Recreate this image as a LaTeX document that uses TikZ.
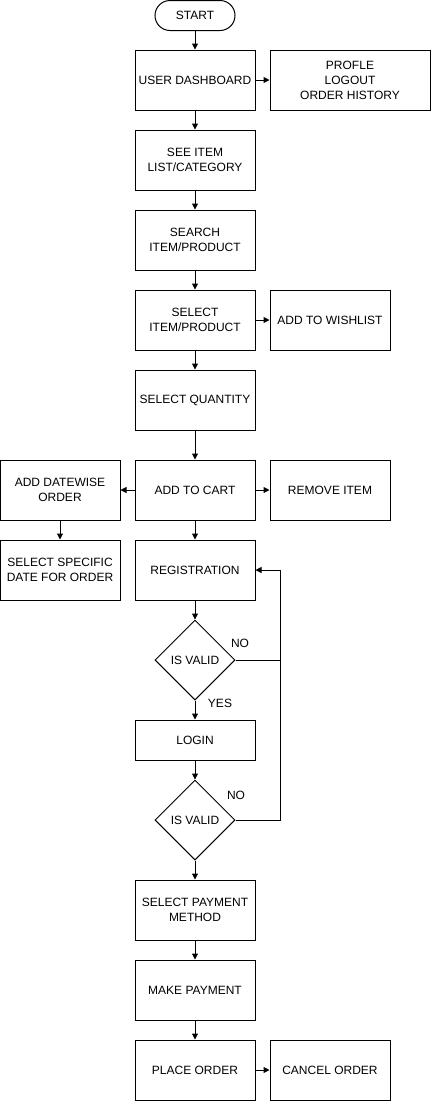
\documentclass[tikz,border=0pt]{standalone}
\usepackage{fontspec}
\setmainfont{Liberation Sans}
\usetikzlibrary{shapes.geometric,arrows.meta}
\begin{document}
\begin{tikzpicture}[x=0.75pt,y=-0.75pt,
  every node/.style={font=\fontsize{9}{11.25}\selectfont, align=center, inner sep=0pt},
  box/.style={draw, line width=0.75pt, minimum width=90pt, minimum height=45pt},
  widebox/.style={box, minimum width=120pt},
  lowbox/.style={box, minimum height=30pt},
  pill/.style={draw, line width=0.75pt, rounded corners=11.25pt, minimum width=60pt, minimum height=22.5pt},
  decision/.style={draw, line width=0.75pt, diamond, minimum width=60pt, minimum height=60pt},
  lbl/.style={font=\fontsize{9}{11.25}\selectfont},
  arr/.style={draw, line width=0.75pt, -{Triangle[length=4.5pt,width=4.5pt]}},
  ln/.style={draw, line width=0.75pt}]
\useasboundingbox (0,0) rectangle (431,1101);
\node[pill] (start) at (195,15.5) {START};
\node[box] (dash) at (195,80) {USER DASHBOARD};
\node[widebox] (prof) at (350,80) {PROFLE\\LOGOUT\\ORDER HISTORY};
\node[box] (see) at (195,160) {SEE ITEM\\LIST/CATEGORY};
\node[box] (search) at (195,240) {SEARCH\\ITEM/PRODUCT};
\node[box] (select) at (195,320) {SELECT\\ITEM/PRODUCT};
\node[box] (wish) at (330,320) {ADD TO WISHLIST};
\node[box] (qty) at (195,400) {SELECT QUANTITY};
\node[box] (cart) at (195,490) {ADD TO CART};
\node[box] (datewise) at (60,490) {ADD DATEWISE\\ORDER};
\node[box] (remove) at (330,490) {REMOVE ITEM};
\node[box] (specific) at (60,570) {SELECT SPECIFIC\\DATE FOR ORDER};
\node[box] (reg) at (195,570) {REGISTRATION};
\node[decision] (valid1) at (195,660) {IS VALID};
\node[lowbox] (login) at (195,740) {LOGIN};
\node[decision] (valid2) at (195,820) {IS VALID};
\node[box] (pay) at (195,910) {SELECT PAYMENT\\METHOD};
\node[box] (make) at (195,990) {MAKE PAYMENT};
\node[box] (place) at (195,1070) {PLACE ORDER};
\node[box] (cancel) at (330,1070) {CANCEL ORDER};
\coordinate (j1) at (280,660);
\coordinate (j2) at (280,820);
\coordinate (j0) at (280,570);
\node[lbl] (no1) at (240,643) {NO};
\node[lbl] (yes) at (220,703) {YES};
\node[lbl] (no2) at (236,795) {NO};
\path[arr] (start) -- (dash);
\path[arr] (dash) -- (prof);
\path[arr] (dash) -- (see);
\path[arr] (see) -- (search);
\path[arr] (search) -- (select);
\path[arr] (select) -- (wish);
\path[arr] (select) -- (qty);
\path[arr] (qty) -- (cart);
\path[arr] (cart) -- (datewise);
\path[arr] (cart) -- (remove);
\path[arr] (datewise) -- (specific);
\path[arr] (cart) -- (reg);
\path[arr] (reg) -- (valid1);
\path[arr] (valid1) -- (login);
\path[arr] (login) -- (valid2);
\path[arr] (valid2) -- (pay);
\path[arr] (pay) -- (make);
\path[arr] (make) -- (place);
\path[arr] (place) -- (cancel);
\path[ln] (valid1.east) -- (j1);
\path[ln] (valid2.east) -- (j2) -- (j1);
\path[arr] (j1) -- (j0) -- (reg.east);
\end{tikzpicture}
\end{document}
